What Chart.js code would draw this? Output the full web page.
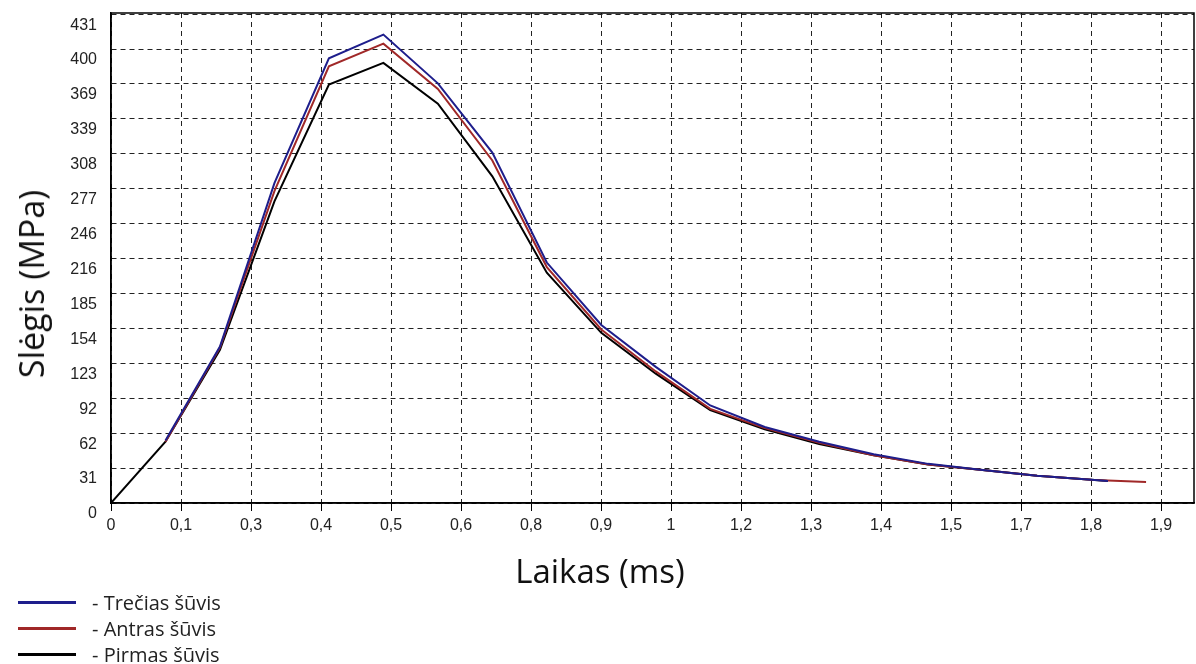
<!DOCTYPE html>
<html>
<head>
    <title>Slėgis – Laikas</title>
    <script src="https://cdn.jsdelivr.net/npm/chart.js"></script>
    <style>
        body { margin: 0; background: #fff; }
        #wrap { position: relative; width: 1196px; height: 664px; }
        #legend { position: absolute; left: 18px; top: 589px; font-family: "Open Sans", sans-serif; font-size: 20px; color: #222; }
        .item { height: 26px; display: flex; align-items: center; }
        .item span.line { display: inline-block; width: 58px; height: 3px; margin-right: 16px; }
        .axisTitle { position: absolute; font-family: "Open Sans", sans-serif; font-size: 33px; color: #111; white-space: nowrap; line-height: 1; }
        #xTitle { left: 600px; top: 570px; transform: translate(-50%, -50%); }
        #yTitle { left: 31px; top: 284px; font-size: 34px; transform: translate(-50%, -50%) rotate(-90deg); }
    </style>
</head>
<body>
<div id="wrap">
    <canvas id="chart" width="1196" height="664"></canvas>
    <div class="axisTitle" id="xTitle">Laikas (ms)</div>
    <div class="axisTitle" id="yTitle">Slėgis (MPa)</div>
    <div id="legend"></div>
</div>
<script>
    // laikas (ms) and pressure readings (MPa)
    const timeMs = [0, 0.1, 0.2, 0.3, 0.4, 0.5, 0.6, 0.7, 0.8, 0.9, 1.0, 1.1, 1.2, 1.3, 1.4, 1.5, 1.6, 1.7, 1.8, 1.83, 1.9];
    const pirmas = [0, 54, 135, 266, 369, 388, 352, 288, 203, 150, 114, 82, 65, 52, 42, 34, 29, 24, 20.5, 19.5, null];
    const antras = [null, 54, 137, 275, 385, 405, 365, 302, 208, 153, 116, 83, 66, 53, 42, 34, 29, 24, 20.5, 19.8, 18.5];
    const trecias = [null, 55, 138, 282, 392, 413, 370, 309, 212, 157, 120, 86, 67, 54, 43, 34.5, 29, 24, 20.5, 19.5, null];

    const seriesNames = ['- Trečias šūvis', '- Antras šūvis', '- Pirmas šūvis'];
    const seriesColors = ['#1e1e8c', '#a02828', '#000000'];

    const xTickLabels = ['0', '0,1', '0,3', '0,4', '0,5', '0,6', '0,8', '0,9', '1', '1,2', '1,3', '1,4', '1,5', '1,7', '1,8', '1,9'];
    const yTickLabels = ['0', '31', '62', '92', '123', '154', '185', '216', '246', '277', '308', '339', '369', '400', '431'];
    const xTickStep = 0.1285;
    const yTickStep = 431 / 14;

    function points(vals) {
        return timeMs.map((t, i) => ({ x: t, y: vals[i] }));
    }

    // solid frame round the plot area
    const frame = {
        id: 'frame',
        afterDraw(chart) {
            const a = chart.chartArea, ctx = chart.ctx;
            ctx.save();
            ctx.strokeStyle = '#000';
            ctx.lineWidth = 1.5;
            ctx.setLineDash([]);
            ctx.strokeRect(a.left, a.top, a.right - a.left, a.bottom - a.top);
            ctx.restore();
        }
    };

    const gridStyle = {
        color: '#222',
        lineWidth: 1,
        tickBorderDash: [],
        tickColor: '#000'
    };
    const borderStyle = { display: true, color: '#000', width: 1.5, dash: [5, 4] };

    const ctx = document.getElementById('chart').getContext('2d');
    new Chart(ctx, {
        type: 'line',
        data: {
            datasets: [
                { label: seriesNames[2], data: points(pirmas), borderColor: seriesColors[2], order: 3 },
                { label: seriesNames[1], data: points(antras), borderColor: seriesColors[1], order: 2 },
                { label: seriesNames[0], data: points(trecias), borderColor: seriesColors[0], order: 1 }
            ]
        },
        options: {
            responsive: false,
            animation: false,
            layout: { padding: { left: 0, top: 13, right: 2, bottom: 74 } },
            elements: {
                point: { radius: 0 },
                line: { borderWidth: 2, tension: 0 }
            },
            plugins: {
                legend: { display: false },
                tooltip: { enabled: false }
            },
            scales: {
                x: {
                    type: 'linear',
                    min: 0,
                    max: 1.988,
                    afterBuildTicks(scale) {
                        scale.ticks = xTickLabels.map((_, i) => ({ value: i * xTickStep }));
                    },
                    afterFit(scale) {
                        scale.height = 87;
                        scale.paddingLeft = 0;
                        scale.paddingRight = 0;
                    },
                    ticks: {
                        padding: 5,
                        color: '#222',
                        font: { family: '"Liberation Sans", Arial', size: 16 },
                        maxRotation: 0,
                        autoSkip: false,
                        callback: (v, i) => xTickLabels[i]
                    },
                    grid: Object.assign({ drawTicks: true, tickLength: 8 }, gridStyle),
                    border: borderStyle
                },
                y: {
                    min: 0,
                    max: 432,
                    afterBuildTicks(scale) {
                        scale.ticks = yTickLabels.map((_, i) => ({ value: i * yTickStep }));
                    },
                    afterFit(scale) {
                        scale.width = 111;
                        scale.paddingTop = 0;
                        scale.paddingBottom = 0;
                    },
                    ticks: {
                        padding: 14,
                        labelOffset: 11,
                        color: '#222',
                        font: { family: '"Liberation Sans", Arial', size: 16 },
                        autoSkip: false,
                        callback: (v, i) => yTickLabels[i]
                    },
                    grid: Object.assign({ drawTicks: false }, gridStyle),
                    border: borderStyle
                }
            }
        },
        plugins: [frame]
    });

    const legend = document.getElementById('legend');
    seriesNames.forEach((name, i) => {
        const row = document.createElement('div');
        row.className = 'item';
        row.innerHTML = `<span class="line" style="background:${seriesColors[i]}"></span>${name}`;
        legend.appendChild(row);
    });
</script>
</body>
</html>
